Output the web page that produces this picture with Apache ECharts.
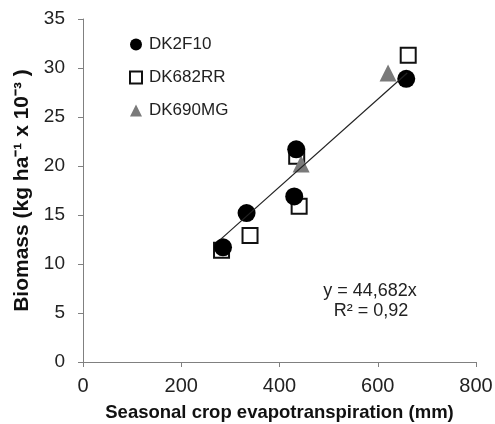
<!DOCTYPE html>
<html>
<head>
<meta charset="utf-8">
<script src="https://cdn.jsdelivr.net/npm/echarts@6/dist/echarts.min.js"></script>
<style>
  html, body { margin: 0; padding: 0; background: #fff; }
  #chart { width: 495px; height: 424px; }
</style>
</head>
<body>
<div id="chart"></div>
<script>
// values
const dk2f10X = [285, 333, 430, 434, 658]
const dk2f10Y = [11.7, 15.2, 16.9, 21.7, 28.9]
const dk682rrX = [282, 340, 440, 435, 662]
const dk682rrY = [11.4, 12.9, 15.9, 21.0, 31.3]
const dk690mgX = [444, 621]
const dk690mgY = [20.2, 29.5]
const slope = 0.044682
const trendX = [280, 660]
const xTicks = [0, 200, 400, 600, 800]
const yTicks = [0, 5, 10, 15, 20, 25, 30, 35]

const pairs = (xs, ys) => xs.map((x, i) => [x, ys[i]])
const font = 'Liberation Sans, Arial, sans-serif'

var myChart = echarts.init(document.getElementById('chart'))
let option = {
  animation: false,
  grid: { left: 83, right: 19, top: 19, bottom: 62, outerBoundsMode: 'none', containLabel: false },
  legend: {
    orient: 'vertical',
    left: 124,
    top: 31,
    itemWidth: 12,
    itemHeight: 12,
    itemGap: 16,
    textStyle: { fontFamily: font, fontSize: 17, color: '#222', padding: [0, 0, 0, 2] },
    data: ['DK2F10', 'DK682RR', 'DK690MG']
  },
  xAxis: {
    type: 'value',
    min: xTicks[0],
    max: xTicks[xTicks.length - 1],
    interval: 200,
    splitLine: { show: false },
    axisLine: { lineStyle: { color: '#808080' } },
    axisTick: { length: 5, lineStyle: { color: '#808080' } },
    axisLabel: { fontFamily: font, fontSize: 20, color: '#222', margin: 14 },
    name: 'Seasonal crop evapotranspiration (mm)',
    nameLocation: 'middle',
    nameGap: 41,
    nameTextStyle: { fontFamily: font, fontSize: 18.5, fontWeight: 'bold', color: '#111' }
  },
  yAxis: {
    type: 'value',
    min: yTicks[0],
    max: yTicks[yTicks.length - 1],
    interval: 5,
    splitLine: { show: false },
    axisLine: { show: true, lineStyle: { color: '#808080' } },
    axisTick: { show: true, length: 5, lineStyle: { color: '#808080' } },
    axisLabel: { fontFamily: font, fontSize: 19, color: '#222', margin: 18 },
    name: 'Biomass (kg ha\u207B\u00B9 x 10\u207B\u00B3 )',
    nameLocation: 'middle',
    nameGap: 48,
    nameTextStyle: { fontFamily: font, fontSize: 21, fontWeight: 'bold', color: '#111' }
  },
  graphic: [
    {
      type: 'text', x: 370, y: 291,
      style: { text: 'y = 44,682x', font: '18px ' + font, fill: '#222', align: 'center', verticalAlign: 'middle' }
    },
    {
      type: 'text', x: 371, y: 311,
      style: { text: 'R\u00B2 = 0,92', font: '18px ' + font, fill: '#222', align: 'center', verticalAlign: 'middle' }
    }
  ],
  series: [
    {
      name: 'DK682RR',
      type: 'scatter',
      symbol: 'rect',
      symbolSize: 15,
      z: 2,
      itemStyle: { color: '#fff', borderColor: '#111', borderWidth: 2, opacity: 1 },
      data: pairs(dk682rrX, dk682rrY)
    },
    {
      name: 'DK690MG',
      type: 'scatter',
      symbol: 'triangle',
      symbolSize: 17,
      z: 3,
      itemStyle: { color: '#7a7a7a', opacity: 1 },
      data: pairs(dk690mgX, dk690mgY)
    },
    {
      name: 'DK2F10',
      type: 'scatter',
      symbol: 'circle',
      symbolSize: 18,
      z: 4,
      itemStyle: { color: '#000', opacity: 1 },
      data: pairs(dk2f10X, dk2f10Y)
    },
    {
      name: 'trend',
      type: 'line',
      symbol: 'none',
      z: 5,
      silent: true,
      lineStyle: { color: '#222', width: 1.2 },
      data: trendX.map(x => [x, slope * x])
    }
  ]
}
myChart.setOption(option)
</script>
</body>
</html>
